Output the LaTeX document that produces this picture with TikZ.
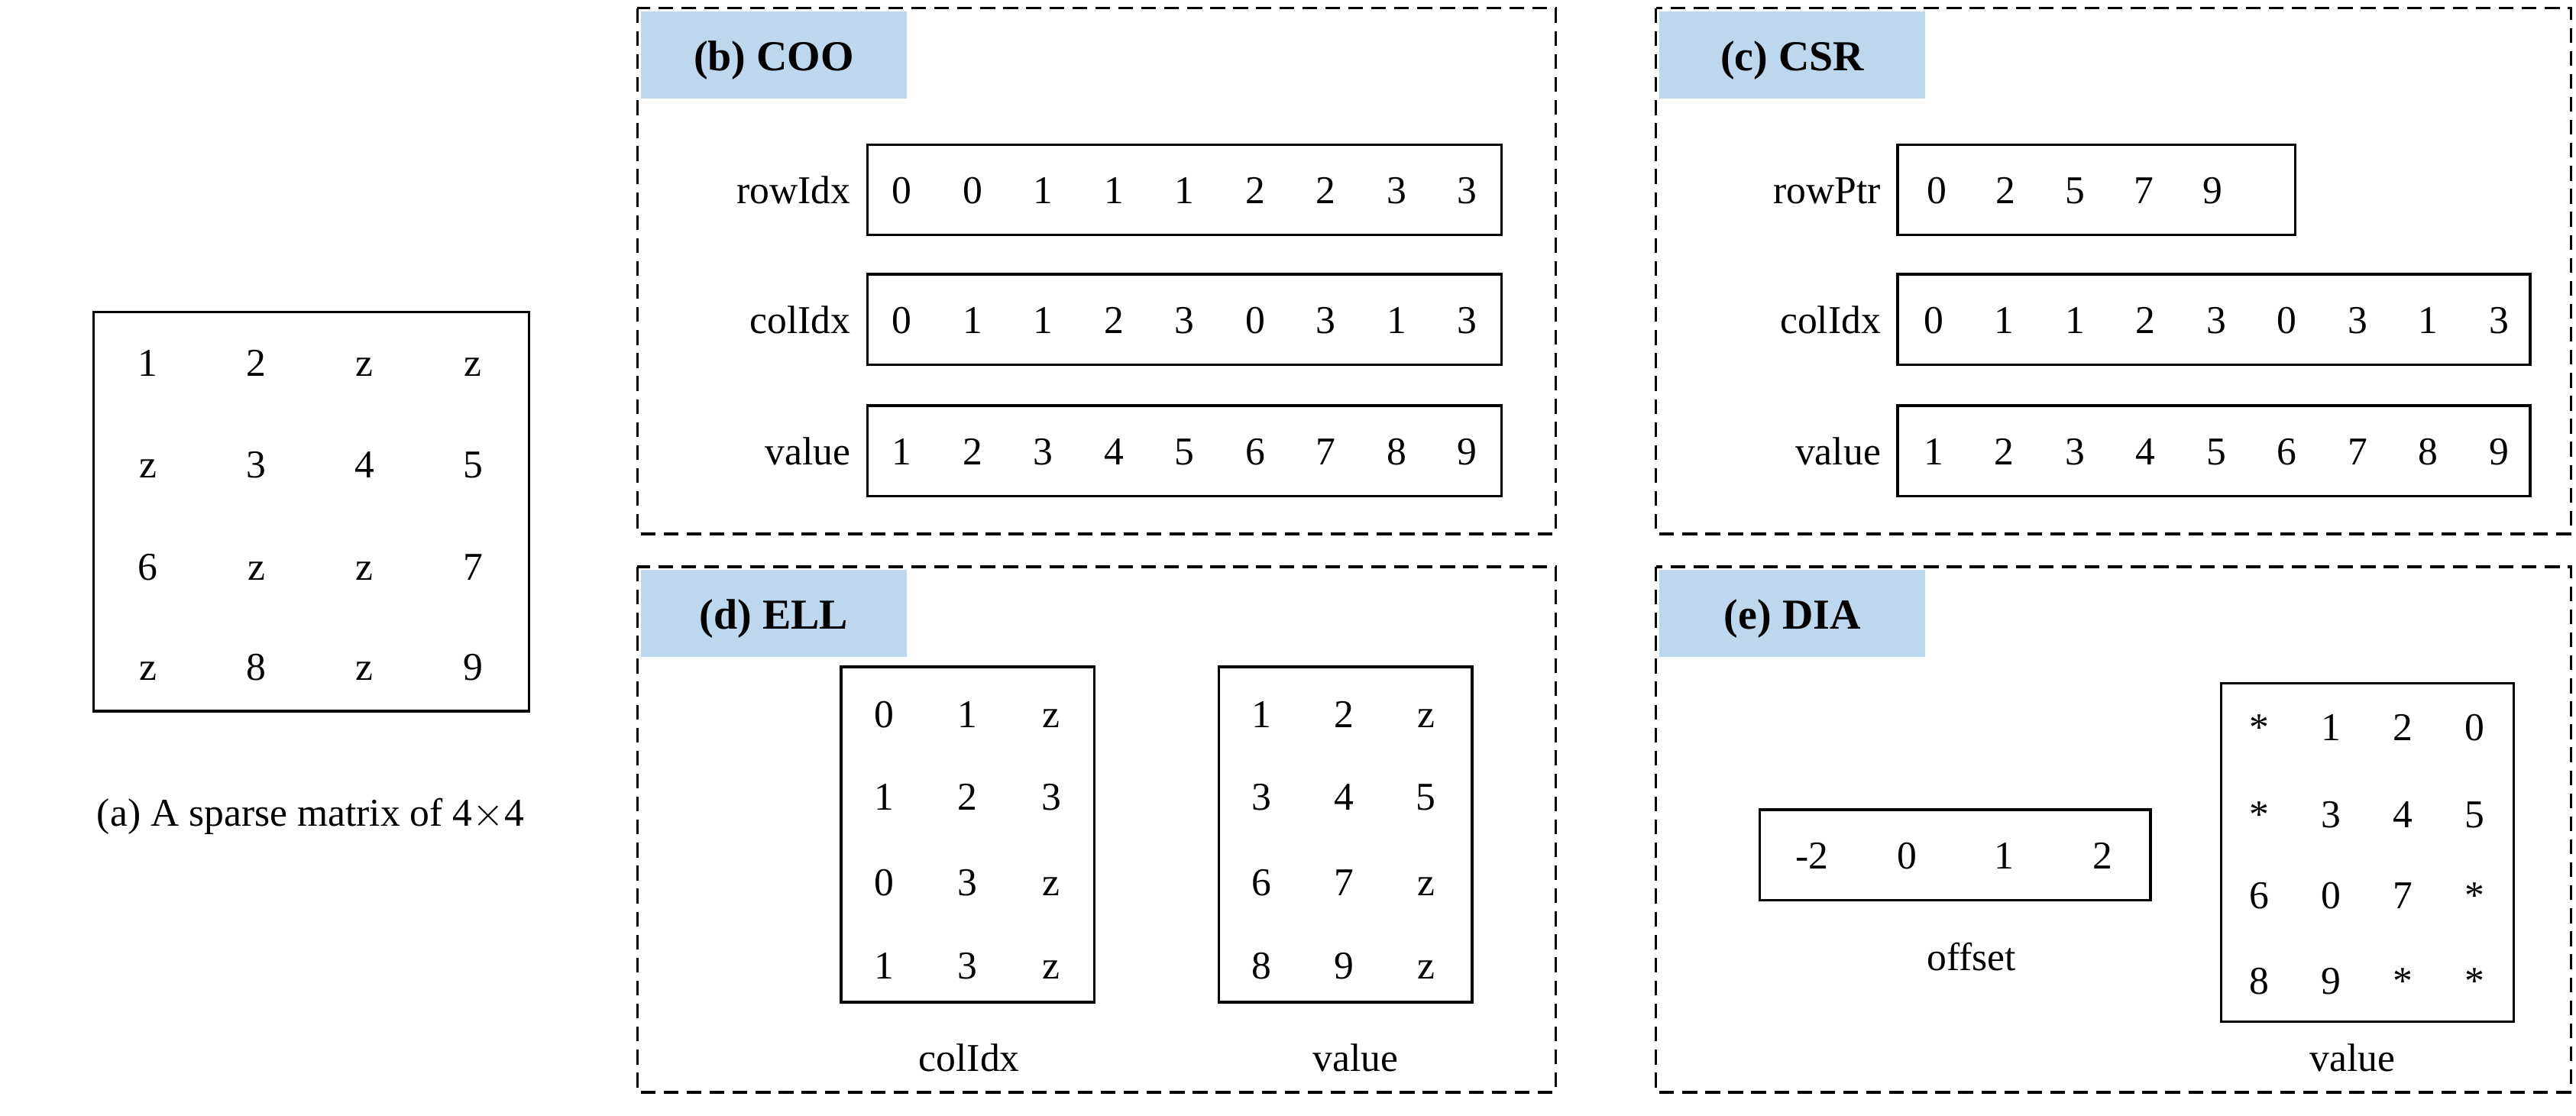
\documentclass[tikz,border=0pt]{standalone}
\usepackage{fontspec}
\setmainfont{Liberation Serif}
\definecolor{lblue}{RGB}{189,215,238}
\definecolor{zgray}{RGB}{205,205,205}
\begin{document}
\begin{tikzpicture}[x=1pt,y=-1pt,
  txt/.style={font=\fontsize{24}{28}\selectfont,inner sep=0pt,anchor=base},
  zt/.style={txt,text=zgray},
  panel/.style={draw,dashed,line width=1.6pt,dash pattern=on 9pt off 5pt},
  box/.style={draw,line width=1.6pt},
  tag/.style={fill=lblue},
  tagtxt/.style={font=\fontsize{26}{30}\selectfont\bfseries,inner sep=0pt,anchor=base}]
\useasboundingbox (0,0) rectangle (1568,679);
% (a)
\draw[box] (57,190) rectangle (322,433);
\foreach \r/\row in {221/{1,2,z,z},283/{z,3,4,5},345/{6,z,z,7},406/{z,8,z,9}}{
  \foreach \v [count=\c] in \row {
    \pgfmathsetmacro\xx{90+66*(\c-1)}
    \ifx\v z \node[zt] at (\xx,\r+8) {0};\else\node[txt] at (\xx,\r+8) {\v};\fi
  }}
\node[txt] at (189,503) {(a) A sparse matrix of 4$\times$4};
% panels
\foreach \x/\y/\t in {388/5/(b) COO,1008/5/(c) CSR,388/345/(d) ELL,1008/345/(e) DIA}{
  \draw[panel] (\x,\y) rectangle (\x+560-\x/1008*3,\y+320);
  \fill[tag] (\x+2,\y+2) rectangle (\x+164,\y+55);
  \node[tagtxt] at (\x+83,\y+38) {\t};
}
% (b)
\foreach \y/\lab/\vals in {116/rowIdx/{0,0,1,1,1,2,2,3,3},195/colIdx/{0,1,1,2,3,0,3,1,3},275/value/{1,2,3,4,5,6,7,8,9}}{
  \draw[box] (528,\y-28) rectangle (914,\y+27);
  \node[txt,anchor=base east] at (518,\y+8) {\lab};
  \foreach \v [count=\c] in \vals {\node[txt] at (549+43*\c-43,\y+8) {\v};}
}
% (c)
\draw[box] (1155,88) rectangle (1397,143);
\node[txt,anchor=base east] at (1145,124) {rowPtr};
\foreach \v [count=\c] in {0,2,5,7,9} {\node[txt] at (1179+42*\c-42,124) {\v};}
\foreach \y/\lab/\vals in {195/colIdx/{0,1,1,2,3,0,3,1,3},275/value/{1,2,3,4,5,6,7,8,9}}{
  \draw[box] (1155,\y-28) rectangle (1540,\y+27);
  \node[txt,anchor=base east] at (1145,\y+8) {\lab};
  \foreach \v [count=\c] in \vals {\node[txt] at (1177+43*\c-43,\y+8) {\v};}
}
% (d)
\draw[box] (512,406) rectangle (666,610);
\draw[box] (742,406) rectangle (896,610);
\foreach \r/\row in {435/{0,1,z},485/{1,2,3},537/{0,3,z},588/{1,3,z}}{
  \foreach \v [count=\c] in \row {
    \pgfmathsetmacro\xx{538+51*(\c-1)}
    \ifx\v z \node[zt] at (\xx,\r+8) {0};\else\node[txt] at (\xx,\r+8) {\v};\fi}}
\foreach \r/\row in {435/{1,2,z},485/{3,4,5},537/{6,7,z},588/{8,9,z}}{
  \foreach \v [count=\c] in \row {
    \pgfmathsetmacro\xx{768+50*(\c-1)}
    \ifx\v z \node[zt] at (\xx,\r+8) {0};\else\node[txt] at (\xx,\r+8) {\v};\fi}}
\node[txt] at (590,652) {colIdx};
\node[txt] at (825,652) {value};
% (e)
\draw[box] (1071,493) rectangle (1309,548);
\foreach \v/\xx in {-2/1103,0/1161,1/1220,2/1280} {\node[txt] at (\xx,529) {\v};}
\node[txt] at (1200,591) {offset};
\draw[box] (1352,416) rectangle (1530,622);
\foreach \r/\row in {443/{*,1,2,0},496/{*,3,4,5},545/{6,0,7,*},597/{8,9,*,*}}{
  \foreach \v [count=\c] in \row {
    \pgfmathsetmacro\xx{1375+43.7*(\c-1)}
    \node[txt] at (\xx,\r+8) {\v};}}
\node[txt] at (1432,652) {value};
\end{tikzpicture}
\end{document}
